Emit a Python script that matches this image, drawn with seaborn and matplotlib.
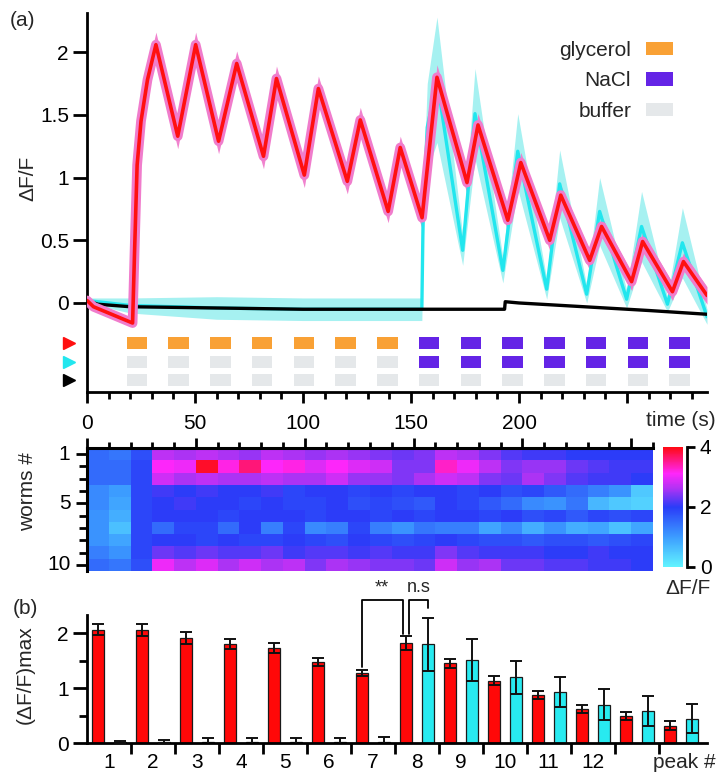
"""
plot.py

Calcium traces under alternating glycerol / NaCl pulses (a), per-worm heatmap,
and peak amplitudes (b). Values were read off the reference figure.
"""

import numpy as np
import pandas as pd
import matplotlib
matplotlib.use("Agg")
import matplotlib.pyplot as plt
from matplotlib.colors import LinearSegmentedColormap
from matplotlib.patches import Rectangle, Patch
import seaborn as sns

# ---------------- panel (a): trace vertices (time s, dF/F) ----------------
red_t = [0, 3, 21.1, 22.0, 23.2, 25.0, 28.0, 31.9, 42.0, 50.3, 60.9, 69.3, 81.7, 87.7,
         100.6, 107.1, 120.5, 126.5, 139.4, 145.0, 155.1, 162.0, 175.9, 181.0, 194.8,
         200.8, 214.2, 219.3, 232.7, 238.2, 252.1, 257.2, 271.0, 276.1, 287.0]
red_v = [0.02, -0.03, -0.16, 0.4, 1.1, 1.45, 1.78, 2.06, 1.33, 2.06, 1.29, 1.91, 1.17, 1.79,
         1.02, 1.71, 0.97, 1.46, 0.73, 1.24, 0.68, 1.80, 0.96, 1.42, 0.66,
         1.12, 0.50, 0.86, 0.34, 0.61, 0.17, 0.49, 0.09, 0.33, 0.06]
red_sem = [0.02, 0.02, 0.03, 0.06, 0.08, 0.09, 0.09, 0.1, 0.1, 0.1, 0.1, 0.1, 0.1, 0.1,
           0.1, 0.1, 0.1, 0.1, 0.09, 0.09, 0.09, 0.1, 0.09, 0.09, 0.09,
           0.08, 0.08, 0.08, 0.08, 0.08, 0.07, 0.08, 0.07, 0.07, 0.07]

cyan_t = [0, 20, 60, 100, 140, 155.0, 155.6, 157.5, 162.0, 173.9, 179.6, 192.5, 199.4,
          212.8, 218.8, 231.3, 237.3, 249.8, 256.7, 268.7, 275.6, 287.0]
cyan_v = [0.02, -0.02, -0.04, -0.05, -0.05, -0.05, 0.7, 1.4, 1.78, 0.42, 1.51, 0.26, 1.21,
          0.11, 0.95, 0.07, 0.73, 0.03, 0.61, -0.01, 0.48, -0.11]
cyan_sem = [0.02, 0.06, 0.09, 0.09, 0.09, 0.09, 0.2, 0.35, 0.5, 0.12, 0.36, 0.1, 0.3,
            0.08, 0.27, 0.07, 0.27, 0.07, 0.28, 0.06, 0.28, 0.06]

black_t = [0, 5, 20, 60, 100, 150, 193.3, 193.6, 200, 230, 260, 287]
black_v = [0.02, -0.01, -0.03, -0.04, -0.05, -0.05, -0.05, 0.01, 0.0, -0.03, -0.06, -0.09]

# stimulus protocol
stim_on = [18.4, 37.7, 57.0, 76.3, 95.7, 115.0, 134.3, 153.6, 172.9, 192.2, 211.6,
           230.9, 250.2, 269.5]
stim_dur = 9.5
stim_red = ["glycerol"] * 7 + ["NaCl"] * 7
stim_cyan = ["buffer"] * 7 + ["NaCl"] * 7
stim_black = ["buffer"] * 14
stim_names = ["glycerol", "NaCl", "buffer"]

# ---------------- heatmap: dF/F per worm, 10 s bins ----------------
heat_bin = 10
heat_vals = [
    [1.5, 1.4, 1.8, 2.7, 2.6, 2.7, 2.6, 2.5, 2.7, 2.6, 2.5, 2.6, 2.5, 2.4, 2.3, 2.4, 2.7, 2.6, 2.4, 2.2, 2.1, 2.1, 2.0, 2.0, 2.0, 2.0],
    [1.5, 1.5, 1.9, 3.1, 3.0, 3.9, 3.2, 3.6, 3.1, 3.2, 2.9, 3.1, 2.9, 2.8, 2.4, 2.4, 3.3, 3.0, 2.7, 2.4, 2.5, 2.5, 2.3, 2.2, 2.1, 2.1],
    [1.5, 1.5, 1.9, 2.8, 2.6, 2.7, 2.6, 2.6, 2.7, 2.6, 2.6, 2.8, 2.5, 2.5, 2.4, 2.6, 2.8, 2.7, 2.4, 2.3, 2.6, 2.4, 2.2, 2.1, 2.1, 2.0],
    [1.2, 1.0, 1.9, 2.1, 2.0, 2.1, 2.0, 2.0, 2.1, 1.9, 2.0, 2.0, 1.9, 2.0, 1.9, 2.0, 2.0, 1.9, 2.0, 1.8, 1.9, 1.7, 1.5, 1.3, 1.1, 0.5],
    [1.2, 0.9, 1.9, 2.0, 2.1, 2.0, 2.0, 1.9, 2.0, 1.9, 1.9, 2.0, 1.8, 1.9, 1.8, 1.7, 2.0, 1.9, 1.7, 1.5, 1.2, 1.1, 1.4, 0.7, 0.5, 0.4],
    [1.1, 0.8, 1.9, 2.0, 2.0, 2.0, 1.9, 2.0, 2.0, 2.0, 1.9, 2.0, 2.0, 1.9, 2.0, 1.9, 2.0, 2.0, 1.9, 2.0, 1.8, 1.9, 1.7, 1.9, 1.8, 1.9],
    [1.1, 0.6, 1.9, 1.5, 1.9, 1.9, 1.5, 2.0, 1.3, 1.9, 1.2, 1.3, 1.9, 1.3, 1.1, 1.4, 1.3, 1.3, 0.9, 1.2, 0.8, 1.1, 0.8, 0.9, 0.6, 0.9],
    [1.1, 0.9, 1.9, 2.0, 2.0, 1.9, 2.0, 1.9, 1.9, 2.0, 1.9, 1.8, 2.0, 1.9, 1.8, 1.9, 2.0, 1.9, 1.8, 1.8, 1.7, 1.8, 1.8, 1.7, 1.8, 1.9],
    [1.3, 1.1, 1.9, 2.3, 2.2, 2.3, 2.2, 2.2, 2.3, 2.1, 2.2, 2.2, 2.1, 2.2, 2.1, 2.1, 2.4, 2.2, 2.1, 2.1, 2.1, 2.0, 2.0, 2.1, 2.0, 2.0],
    [1.5, 1.4, 1.8, 3.0, 2.7, 2.9, 2.6, 2.8, 2.6, 2.7, 2.4, 2.6, 2.5, 2.4, 2.4, 2.3, 2.8, 2.5, 2.6, 2.3, 2.3, 2.2, 2.2, 2.1, 2.1, 2.0],
]
worm_labels = ["1", "5", "10"]

# ---------------- panel (b): peak amplitudes ----------------
peaks = list(range(1, 15))
red_peak = [2.06, 2.05, 1.92, 1.80, 1.73, 1.48, 1.28, 1.82, 1.45, 1.14, 0.88, 0.62, 0.49, 0.32]
red_err = [0.10, 0.11, 0.11, 0.09, 0.09, 0.07, 0.06, 0.12, 0.08, 0.08, 0.07, 0.07, 0.07, 0.08]
cyan_peak = [0.02, 0.03, 0.02, 0.02, 0.02, 0.02, 0.03, 1.80, 1.51, 1.20, 0.93, 0.70, 0.59, 0.45]
cyan_err = [0.02, 0.03, 0.08, 0.08, 0.08, 0.08, 0.09, 0.48, 0.38, 0.30, 0.27, 0.28, 0.27, 0.27]
peak_labels = [str(p) for p in range(1, 13)]

# brackets: (x left, x right, left leg bottom, right leg bottom, top, text)
sig_brackets = [
    (5.75, 6.68, 1.38, 1.98, 2.61, "**"),
    (6.82, 7.25, 1.98, 2.45, 2.61, "n.s"),
]

# ---------------- style ----------------
RED = "#ff1010"
RED_BAND = "#f07ccc"
CYAN = "#22e6ee"
CYAN_BAND = "#a6f1f1"
STIM_COLORS = {"glycerol": "#f9a135", "NaCl": "#6424e6", "buffer": "#e5e8ea"}
FS = 15

sns.set_style("ticks")
plt.rcParams["font.family"] = ["Liberation Sans", "DejaVu Sans"]
plt.rcParams["font.size"] = FS
plt.rcParams["axes.linewidth"] = 2.0
plt.rcParams["xtick.major.width"] = 2.0
plt.rcParams["ytick.major.width"] = 2.0
plt.rcParams["xtick.minor.width"] = 2.0
plt.rcParams["ytick.minor.width"] = 2.0
plt.rcParams["xtick.color"] = "black"
plt.rcParams["ytick.color"] = "black"
plt.rcParams["axes.edgecolor"] = "black"

W, H = 718, 777
fig = plt.figure(figsize=(W / 100, H / 100), dpi=100)


def box(x0, y0, x1, y1):
    # pixel box (top-left origin) -> figure fraction rect
    return [x0 / W, 1 - y1 / H, (x1 - x0) / W, (y1 - y0) / H]


ax_a = fig.add_axes(box(87, 12.7, 707, 392))
ax_h = fig.add_axes(box(87, 448, 653, 571))
cax = fig.add_axes(box(663, 447, 683, 567))
ax_b = fig.add_axes(box(87, 615, 707, 743.3))

# ---------------- (a) traces ----------------
cy_v, cy_s = np.array(cyan_v), np.array(cyan_sem)
rd_v, rd_s = np.array(red_v), np.array(red_sem)
ax_a.fill_between(cyan_t, cy_v - cy_s, cy_v + cy_s, color=CYAN_BAND, lw=0, zorder=1)
ax_a.fill_between(red_t, rd_v - rd_s, rd_v + rd_s, color=RED_BAND, lw=0, alpha=0.95, zorder=1.5)
sns.lineplot(x=cyan_t, y=cyan_v, ax=ax_a, color=CYAN, lw=2.4, estimator=None, sort=False, zorder=2)
sns.lineplot(x=black_t, y=black_v, ax=ax_a, color="black", lw=2.4, estimator=None, sort=False, zorder=3)
# pink halo so the SEM stays visible on the steep flanks, as in the original
sns.lineplot(x=red_t, y=red_v, ax=ax_a, color=RED_BAND, lw=7, estimator=None, sort=False,
             zorder=3.5, solid_joinstyle="round")
sns.lineplot(x=red_t, y=red_v, ax=ax_a, color=RED, lw=2.6, estimator=None, sort=False, zorder=4)

row_y = [-0.32, -0.47, -0.615]
row_marker = [RED, CYAN, "black"]
for y, kinds, mc in zip(row_y, [stim_red, stim_cyan, stim_black], row_marker):
    for t0, kind in zip(stim_on, kinds):
        ax_a.add_patch(Rectangle((t0, y - 0.05), stim_dur, 0.1,
                                 facecolor=STIM_COLORS[kind], lw=0))
    ax_a.plot([-8.5], [y], marker=">", ms=9, color=mc, clip_on=False, lw=0)

ax_a.set_xlim(0, 287)
ax_a.set_ylim(-0.71, 2.315)
ax_a.set_yticks([0, 0.5, 1, 1.5, 2])
ax_a.set_yticklabels(["0", "0.5", "1", "1.5", "2"])
ax_a.set_xticks([0, 50, 100, 150, 200, 250])
ax_a.set_xticklabels(["0", "50", "100", "150", "200", ""])
ax_a.set_xticks(np.arange(0, 290, 10), minor=True)
ax_a.tick_params(axis="y", length=10, pad=3, labelsize=FS)
ax_a.tick_params(axis="x", which="major", length=8, pad=8, labelsize=FS)
ax_a.tick_params(axis="x", which="minor", length=5)
ax_a.set_xlabel("")
ax_a.set_ylabel("")
sns.despine(ax=ax_a)

handles = [Patch(facecolor=STIM_COLORS[n], lw=0) for n in stim_names]
ax_a.legend(handles, stim_names, loc="upper right", bbox_to_anchor=(0.975, 0.975),
            frameon=False, markerfirst=False, handlelength=1.3, handleheight=0.6,
            handletextpad=0.7, labelspacing=0.55, fontsize=FS)

# ---------------- heatmap ----------------
cmap = LinearSegmentedColormap.from_list(
    "dff", [(0.0, "#62f4ff"), (0.25, "#3c9cff"), (0.5, "#2a3cf8"),
            (0.66, "#b432f4"), (0.78, "#ff26fa"), (1.0, "#ff0a10")])
sns.heatmap(np.array(heat_vals), ax=ax_h, cmap=cmap, vmin=0, vmax=4, cbar_ax=cax,
            cbar_kws={"ticks": [0, 2, 4]})
n_bins = len(heat_vals[0])
ax_h.xaxis.tick_top()
ax_h.set_xticks(np.arange(0, n_bins + 1, 50 / heat_bin))
ax_h.set_xticklabels([])
ax_h.set_xticks(np.arange(0, n_bins + 1, 1), minor=True)
ax_h.set_yticks([0.5, 4.5, 9.5])
ax_h.set_yticklabels(worm_labels, rotation=0)
ax_h.set_yticks(np.arange(0.5, 10, 1), minor=True)
ax_h.tick_params(axis="x", which="major", length=7, top=True, bottom=False)
ax_h.tick_params(axis="x", which="minor", length=4, top=True, bottom=False)
ax_h.tick_params(axis="y", which="major", length=8, pad=4, labelsize=FS)
ax_h.tick_params(axis="y", which="minor", length=6)
for side in ["top", "left"]:
    ax_h.spines[side].set_visible(True)
    ax_h.spines[side].set_linewidth(2.2)

cbar = ax_h.collections[0].colorbar
cbar.outline.set_visible(False)
cax.spines["right"].set_visible(True)
cax.spines["right"].set_position(("outward", 3))
cax.spines["right"].set_linewidth(2)
cax.tick_params(length=6, width=2, labelsize=FS, pad=3)

# ---------------- (b) bars ----------------
df = pd.DataFrame({
    "peak": peaks * 2,
    "trace": ["red"] * len(peaks) + ["cyan"] * len(peaks),
    "val": red_peak + cyan_peak,
})
sns.barplot(data=df, x="peak", y="val", hue="trace", palette={"red": "#ff0808", "cyan": "#28eaf0"},
            saturation=1, width=1.0, gap=0.45, errorbar=None, legend=False, ax=ax_b,
            edgecolor="#1a1a1a", linewidth=0.9)
bars = list(ax_b.patches)
xs = [p.get_x() + p.get_width() / 2 for p in bars]
hs = [p.get_height() for p in bars]
ax_b.errorbar(xs, hs, yerr=red_err + cyan_err, fmt="none", ecolor="#111111",
              elinewidth=1.4, capsize=4, capthick=1.4, zorder=5)

for x0, x1, yl, yr, top, txt in sig_brackets:
    ax_b.plot([x0, x0, x1, x1], [yl, top, top, yr], color="black", lw=1.3, clip_on=False)
    ax_b.text((x0 + x1) / 2, top + 0.06, txt, ha="center", va="bottom", fontsize=13)

ax_b.set_xlim(-0.5, 13.6)
ax_b.set_ylim(0, 2.33)
ax_b.set_xticks(range(len(peak_labels)))
ax_b.set_xticklabels(peak_labels)
ax_b.set_xticks(np.arange(0.5, 13, 1), minor=True)
ax_b.tick_params(axis="x", which="major", length=0, pad=7, labelsize=FS)
ax_b.tick_params(axis="x", which="minor", length=8)
ax_b.set_yticks([0, 1, 2])
ax_b.set_yticks([0.5, 1.5], minor=True)
ax_b.tick_params(axis="y", which="major", length=10, pad=3, labelsize=FS)
ax_b.tick_params(axis="y", which="minor", length=6)
ax_b.set_xlabel("")
ax_b.set_ylabel("")
sns.despine(ax=ax_b)

# ---------------- labels ----------------
fig.text(10 / W, 1 - 20 / H, "(a)", fontsize=FS, va="center")
fig.text(28 / W, 1 - 178 / H, "\u0394F/F", rotation=90, ha="center", va="center", fontsize=FS)
fig.text(716 / W, 1 - 421 / H, "time (s)", ha="right", va="center", fontsize=FS)
fig.text(28 / W, 1 - 492 / H, "worms #", rotation=90, ha="center", va="center", fontsize=FS)
fig.text(688 / W, 1 - 588 / H, "\u0394F/F", ha="center", va="center", fontsize=FS)
fig.text(25 / W, 1 - 608 / H, "(b)", ha="center", va="center", fontsize=FS)
fig.text(25 / W, 1 - 675 / H, "(\u0394F/F)max", rotation=90, ha="center", va="center", fontsize=FS)
fig.text(716 / W, 1 - 763 / H, "peak #", ha="right", va="center", fontsize=FS)

fig.savefig("out.png", dpi=100)
